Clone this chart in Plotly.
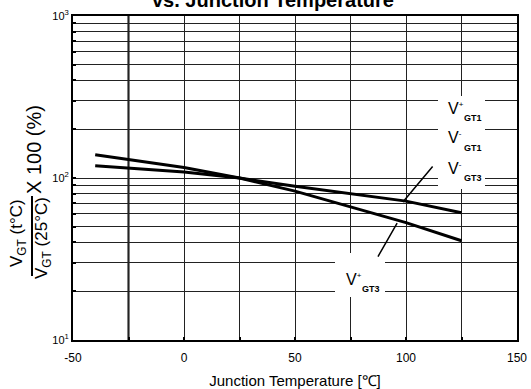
import plotly.graph_objects as go
import math

# ---- data ----
temp = [-40, -25, 0, 25, 50, 100, 125]
ratio_gt3p = [139, 130, 116, 100, 83, 53, 41]     # V+GT3 (steeper line)
ratio_gt1 = [119, 115, 109, 100, 89, 72, 61]      # V+GT1, V-GT1, V-GT3

x_tickvals = [-50, -25, 0, 25, 50, 75, 100, 125, 150]
x_ticktext = ["-50", "", "0", "", "50", "", "100", "", "150"]
y_tickvals = [m * 10 ** e for e in (1, 2) for m in range(1, 10)] + [1000]
y_ticktext = [("10<sup>%d</sup>" % e if m == 1 else "") for e in (1, 2) for m in range(1, 10)] + ["10<sup>3</sup>"]

FONT = "Arial, Liberation Sans, Helvetica, sans-serif"
L, R, T, B = 73, 517, 16, 340
W, H = 531, 389


def px(x):
    return (x - L) / (R - L)


def py(y):
    return (B - y) / (B - T)


fig = go.Figure()
fig.add_trace(go.Scatter(x=temp, y=ratio_gt3p, mode="lines",
                         line=dict(color="black", width=3), showlegend=False))
fig.add_trace(go.Scatter(x=temp, y=ratio_gt1, mode="lines",
                         line=dict(color="black", width=3), showlegend=False))

shapes = [
    dict(type="line", xref="x", yref="paper", x0=-25, x1=-25, y0=0, y1=1,
         line=dict(color="black", width=2), layer="between"),
    dict(type="rect", xref="paper", yref="paper", x0=px(438), x1=px(485), y0=py(189), y1=py(96),
         fillcolor="white", line=dict(width=0), layer="above"),
    dict(type="rect", xref="paper", yref="paper", x0=px(335), x1=px(385), y0=py(297), y1=py(253),
         fillcolor="white", line=dict(width=0), layer="above"),
    dict(type="line", xref="paper", yref="paper", x0=px(32), x1=px(32), y0=py(276), y1=py(196),
         line=dict(color="black", width=2)),
]

ann = []
ann.append(dict(text="<b>vs. Junction Temperature</b>", xref="paper", yref="paper",
                x=px(273), y=py(13), xanchor="center", yanchor="bottom", showarrow=False,
                font=dict(size=20, color="black", family=FONT)))

labels = [
    (446, 108, "+", "GT1"),
    (446, 137.5, "-", "GT1"),
    (446, 168, "-", "GT3"),
    (344, 279, "+", "GT3"),
]
for vx, vy, sup, sub in labels:
    ann.append(dict(text="V<sup><span style='font-size:8px'>%s</span></sup>" % sup,
                    xref="paper", yref="paper", x=px(vx), y=py(vy),
                    xanchor="left", yanchor="middle", showarrow=False,
                    font=dict(size=16, color="black", family=FONT)))
    ann.append(dict(text="<b>%s</b>" % sub, xref="paper", yref="paper", x=px(vx + 16), y=py(vy + 10),
                    xanchor="left", yanchor="middle", showarrow=False,
                    font=dict(size=9, color="black", family=FONT)))

ann.append(dict(text="", x=98.6, y=math.log10(71), xref="x", yref="y", ax=31, ay=-37,
                showarrow=True, arrowhead=0, arrowwidth=1.5, arrowcolor="black", standoff=0))
ann.append(dict(text="", x=96, y=math.log10(52.7), xref="x", yref="y", ax=-20, ay=35,
                showarrow=True, arrowhead=0, arrowwidth=1.5, arrowcolor="black", standoff=0))

ann.append(dict(text="V<sub>GT</sub> (t°C)", xref="paper", yref="paper", x=px(18), y=py(233),
                xanchor="center", yanchor="middle", textangle=-90, showarrow=False,
                font=dict(size=17, color="black", family=FONT)))
ann.append(dict(text="V<sub>GT</sub> (25°C)", xref="paper", yref="paper", x=px(43), y=py(238),
                xanchor="center", yanchor="middle", textangle=-90, showarrow=False,
                font=dict(size=17, color="black", family=FONT)))
ann.append(dict(text="X 100 (%)", xref="paper", yref="paper", x=px(34), y=py(150),
                xanchor="center", yanchor="middle", textangle=-90, showarrow=False,
                font=dict(size=20, color="black", family=FONT)))

fig.update_layout(
    width=W, height=H,
    margin=dict(l=L, r=W - R, t=T, b=H - B, pad=0, autoexpand=False),
    paper_bgcolor="white", plot_bgcolor="white",
    font=dict(family=FONT, color="black"),
    shapes=shapes, annotations=ann,
    xaxis=dict(range=[-50, 150], tickvals=x_tickvals, ticktext=x_ticktext,
               showgrid=True, gridcolor="#222", gridwidth=1, automargin=False,
               showline=True, linecolor="black", linewidth=2, mirror=True,
               ticks="inside", ticklen=3, tickwidth=2, tickcolor="black",
               tickfont=dict(size=12, family=FONT), zeroline=False, ticklabelstandoff=6,
               title=dict(text="Junction Temperature [℃]", font=dict(size=15, family=FONT), standoff=16)),
    yaxis=dict(type="log", range=[1, 3], tickvals=y_tickvals, ticktext=y_ticktext,
               showgrid=True, gridcolor="#222", gridwidth=1, automargin=False,
               showline=True, linecolor="black", linewidth=2, mirror=True,
               ticks="inside", ticklen=3, tickwidth=2, tickcolor="black",
               tickfont=dict(size=11, family=FONT), zeroline=False),
)

fig.write_html("out.html")
